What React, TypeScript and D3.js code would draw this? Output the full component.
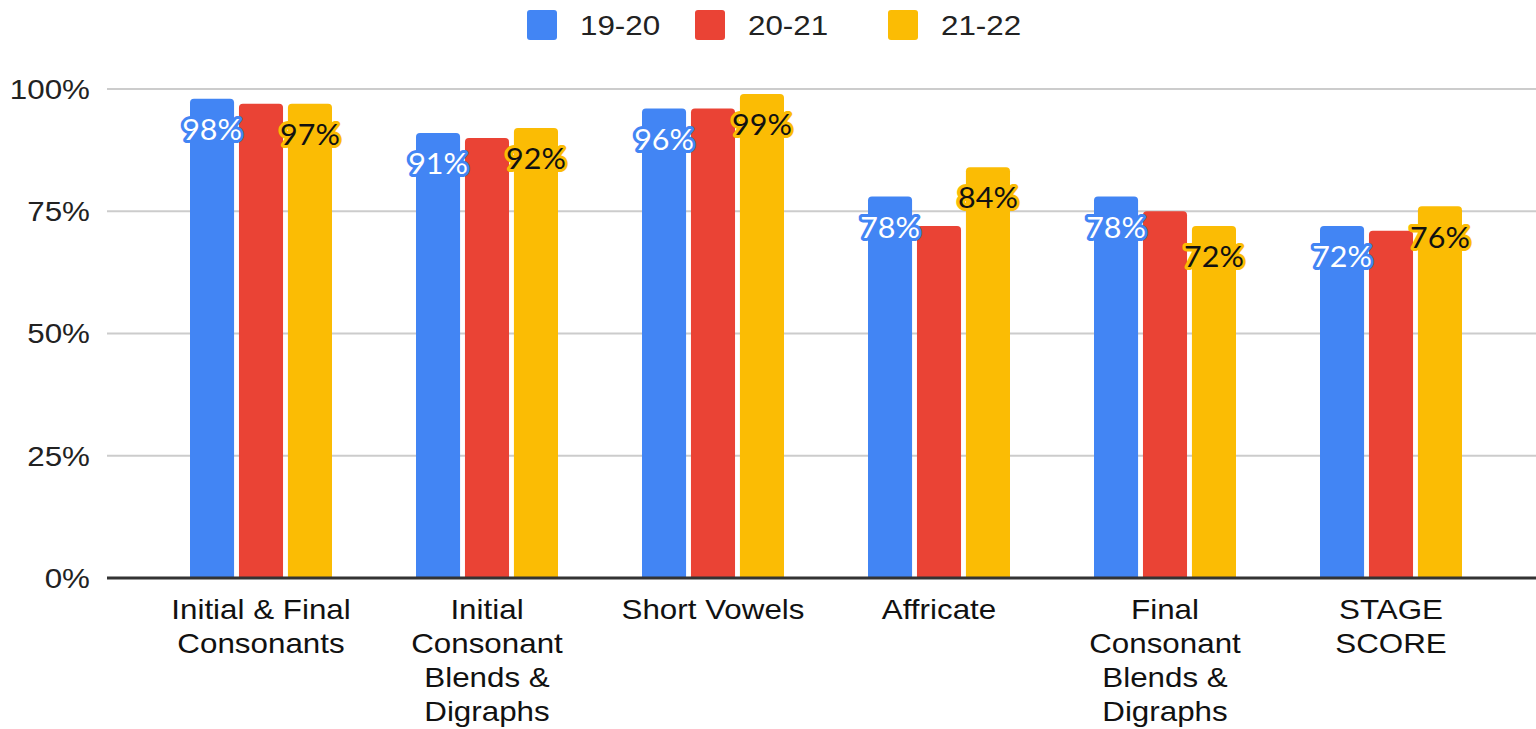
import React from "react";
import * as d3 from "d3";

const categories = [
  ["Initial & Final", "Consonants"],
  ["Initial", "Consonant", "Blends &", "Digraphs"],
  ["Short Vowels"],
  ["Affricate"],
  ["Final", "Consonant", "Blends &", "Digraphs"],
  ["STAGE", "SCORE"],
];
const seriesNames = ["19-20", "20-21", "21-22"];
const s1920 = [98, 91, 96, 78, 78, 72];
const s2021 = [97, 90, 96, 72, 75, 71];
const s2122 = [97, 92, 99, 84, 72, 76];
const colors = ["#4285f4", "#ea4335", "#fbbc04"];
const yTicks = [0, 25, 50, 75, 100];
const showLabel = [true, false, true];

const W = 1536;
const H = 729;
const SX = 1.12;
const FONT = "Liberation Sans, Arial, sans-serif";

function roundedTop(x: number, y: number, w: number, h: number, r: number) {
  const rr = Math.min(r, h, w / 2);
  return `M${x},${y + h}V${y + rr}Q${x},${y} ${x + rr},${y}H${x + w - rr}Q${x + w},${y} ${x + w},${y + rr}V${y + h}Z`;
}

export default function App() {
  const series = [s1920, s2021, s2122];
  const idx = categories.map((_, i) => String(i));
  const x0 = d3.scaleBand<string>().domain(idx).range([148, 1504]).paddingInner(0).paddingOuter(0);
  const groupW = 142;
  const x1 = d3.scaleBand<string>().domain(seriesNames).range([0, groupW]).paddingInner(0.1).paddingOuter(0);
  const y = d3.scaleLinear().domain([0, 100]).range([578, 89]);
  const fmt = (v: number) => `${v}%`;
  const legendX = [527, 695, 888];

  return (
    <svg width={W} height={H} style={{ position: "absolute", left: 0, top: 0, background: "#fff" }}>
      {/* legend */}
      {seriesNames.map((n, i) => (
        <g key={n}>
          <rect x={legendX[i]} y={10} width={30} height={30} rx={3} fill={colors[i]} />
          <g transform={`translate(${legendX[i] + 53},25) scale(${SX},1)`}>
            <text x={0} y={0} dominantBaseline="central" fontFamily={FONT} fontSize={28} fill="#222">{n}</text>
          </g>
        </g>
      ))}
      {/* gridlines */}
      {yTicks.map((t) => (
        <g key={t}>
          {t !== 0 && <line x1={107} x2={1536} y1={y(t)} y2={y(t)} stroke="#cccccc" strokeWidth={2} />}
          <g transform={`translate(90,${y(t)}) scale(${SX},1)`}>
            <text x={0} y={0} textAnchor="end" dominantBaseline="central" fontFamily={FONT} fontSize={28} fill="#222">{fmt(t)}</text>
          </g>
        </g>
      ))}
      {/* bars */}
      {categories.map((_, ci) => {
        const gx = (x0(String(ci)) as number) + (x0.bandwidth() - groupW) / 2;
        return (
          <g key={ci}>
            {series.map((s, si) => {
              const bx = gx + (x1(seriesNames[si]) as number);
              const by = y(s[ci]);
              return (
                <path key={si} d={roundedTop(bx, by, x1.bandwidth(), y(0) - by, 4)} fill={colors[si]} />
              );
            })}
          </g>
        );
      })}
      {/* labels */}
      {categories.map((_, ci) => {
        const gx = (x0(String(ci)) as number) + (x0.bandwidth() - groupW) / 2;
        return (
          <g key={"l" + ci}>
            {series.map((s, si) => {
              if (!showLabel[si]) return null;
              const cx = gx + (x1(seriesNames[si]) as number) + x1.bandwidth() / 2;
              const cy = y(s[ci]) + 30;
              const white = si === 0;
              return (
                <g key={si} transform={`translate(${cx},${cy}) scale(1.05,1)`}>
                  <text x={0} y={0} textAnchor="middle" dominantBaseline="central"
                    fontFamily="Lato, 'Open Sans', sans-serif" fontSize={29}
                    fill={white ? "#ffffff" : "#111111"} stroke={colors[si]} strokeWidth={6}
                    strokeLinejoin="round" paintOrder="stroke">{fmt(s[ci])}</text>
                </g>
              );
            })}
          </g>
        );
      })}
      {/* baseline */}
      <line x1={107} x2={1536} y1={y(0)} y2={y(0)} stroke="#333" strokeWidth={3} />
      {/* x labels */}
      {categories.map((lines, ci) => {
        const cx = (x0(String(ci)) as number) + x0.bandwidth() / 2;
        return (
          <g key={"x" + ci} transform={`translate(${cx},0) scale(${SX},1)`}>
            <text textAnchor="middle" fontFamily={FONT} fontSize={28} fill="#111">
              {lines.map((ln, li) => (
                <tspan key={li} x={0} y={609 + li * 34} dominantBaseline="central">{ln}</tspan>
              ))}
            </text>
          </g>
        );
      })}
    </svg>
  );
}
